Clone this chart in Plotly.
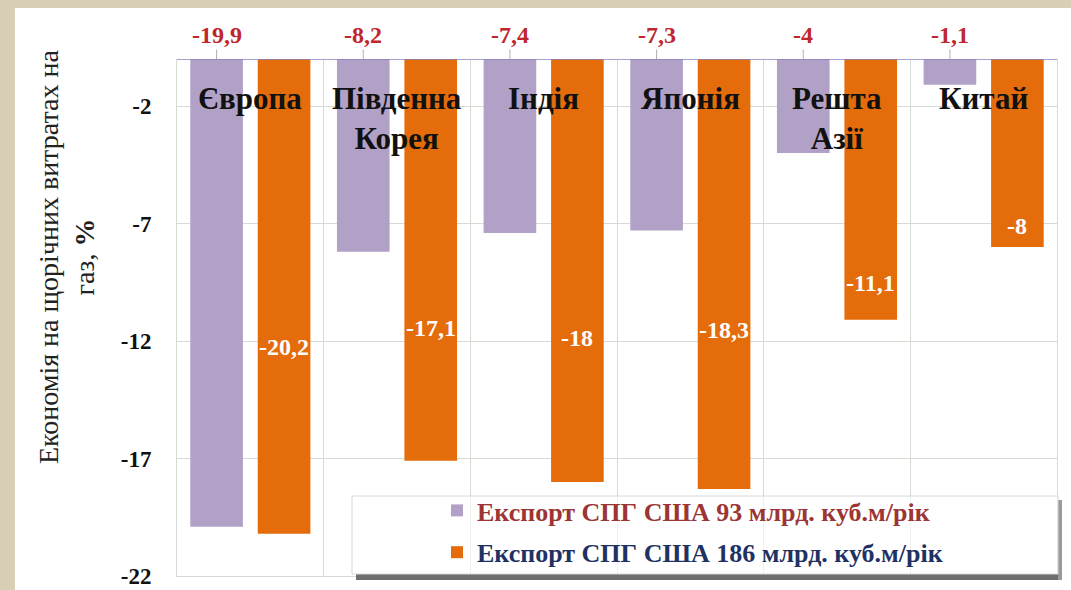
import plotly.graph_objects as go

categories = ["Європа", "Південна<br>Корея", "Індія", "Японія", "Решта<br>Азії", "Китай"]
series_93 = [-19.9, -8.2, -7.4, -7.3, -4.0, -1.1]
series_186 = [-20.2, -17.1, -18.0, -18.3, -11.1, -8.0]
labels_93 = ["-19,9", "-8,2", "-7,4", "-7,3", "-4", "-1,1"]
labels_186 = ["-20,2", "-17,1", "-18", "-18,3", "-11,1", "-8"]
# vertical placement of the in-bar labels (as in the original slide)
label_pos_186 = [-12.27, -11.46, -11.89, -11.55, -9.55, -7.09]
y_ticks = [-2, -7, -12, -17, -22]
name_93 = "Експорт СПГ США 93 млрд. куб.м/рік"
name_186 = "Експорт СПГ США 186 млрд. куб.м/рік"
y_title = "Економія на щорічних витратах на<br>газ, <b>%</b>"

PURPLE = "#b2a1c7"
ORANGE = "#e46c0a"
RED = "#c0272d"
LEG_RED = "#9c3534"
LEG_BLUE = "#1f3263"
GRID = "#d6dcd4"
SERIF = "Liberation Serif"
BEIGE = "#d9cfb6"

W, H = 1071, 590
ML, MR, MT, MB = 177, 14, 59, 14
PW, PH = W - ML - MR, H - MT - MB
BARGAP, GROUPGAP = 0.08, 0.22

def px_x(p):
    return (p - ML) / PW

def px_y(p):
    return (H - MB - p) / PH

ids = list(range(len(categories)))

fig = go.Figure()
fig.add_trace(go.Bar(x=ids, y=series_93, name=f"<b><span style='color:{LEG_RED}'>{name_93}</span></b>",
                     marker=dict(color=PURPLE, line=dict(width=0)), legendgroup="a"))
fig.add_trace(go.Bar(x=ids, y=series_186, name=f"<b><span style='color:{LEG_BLUE}'>{name_186}</span></b>",
                     marker=dict(color=ORANGE, line=dict(width=0)), legendgroup="b"))

slot = (1 - BARGAP) / 2
annotations = []
for i, (lab, v) in enumerate(zip(labels_93, series_93)):
    annotations.append(dict(x=i - slot / 2, y=0, xref="x", yref="y", text=f"<b>{lab}</b>",
                            showarrow=True, arrowhead=0, arrowwidth=1, arrowcolor="#b0b0b0",
                            ax=0, ay=-24, standoff=0,
                            font=dict(family=SERIF, size=24, color=RED)))
for i, (lab, pos) in enumerate(zip(labels_186, label_pos_186)):
    annotations.append(dict(x=i + slot / 2, y=pos, xref="x", yref="y", text=f"<b>{lab}</b>",
                            showarrow=False, font=dict(family=SERIF, size=24, color="white")))
for i, c in enumerate(categories):
    annotations.append(dict(x=i, y=1, xref="x", yref="paper", yanchor="top", yshift=-20,
                            text=f"<b>{c}</b>", showarrow=False, align="center",
                            font=dict(family=SERIF, size=31, color="#111111")))
annotations.append(dict(x=px_x(66), y=px_y(257), xref="paper", yref="paper", text=y_title,
                        xanchor="center", yanchor="middle",
                        textangle=-90, showarrow=False, align="center",
                        font=dict(family=SERIF, size=28, color="#222222")))

shapes = [
    # beige slide border (left and top strips)
    dict(type="rect", xref="paper", yref="paper", x0=px_x(-5), x1=px_x(15), y0=px_y(H + 5), y1=px_y(-5),
         fillcolor=BEIGE, line=dict(width=0), layer="below"),
    dict(type="rect", xref="paper", yref="paper", x0=px_x(-5), x1=px_x(W + 5), y0=px_y(8), y1=px_y(-5),
         fillcolor=BEIGE, line=dict(width=0), layer="below"),
    # top axis line at 0
    dict(type="line", xref="paper", yref="y", x0=0, x1=1, y0=0, y1=0,
         line=dict(color="#8a80c0", width=1.5), layer="above"),
    # legend box shadow (bottom and right strips)
    dict(type="rect", xref="paper", yref="paper", x0=px_x(356), x1=px_x(1062), y0=px_y(580), y1=px_y(574),
         fillcolor="#6e6e6e", line=dict(width=0), layer="above"),
    dict(type="rect", xref="paper", yref="paper", x0=px_x(1058), x1=px_x(1062), y0=px_y(580), y1=px_y(500),
         fillcolor="#9a9a9a", line=dict(width=0), layer="above"),
    # legend box
    dict(type="rect", xref="paper", yref="paper", x0=px_x(352), x1=px_x(1058), y0=px_y(574), y1=px_y(496),
         fillcolor="rgba(255,255,255,0.6)", line=dict(color="#d8d8d8", width=1), layer="above"),
]

fig.update_layout(
    width=W, height=H,
    margin=dict(l=ML, r=MR, t=MT, b=MB, autoexpand=False),
    paper_bgcolor="white",
    plot_bgcolor="white",
    barmode="group", bargap=BARGAP, bargroupgap=GROUPGAP,
    showlegend=True,
    legend=dict(x=px_x(437), y=px_y(487), xanchor="left", yanchor="top",
                bgcolor="rgba(0,0,0,0)", borderwidth=0, itemwidth=30,
                traceorder="grouped", tracegroupgap=5,
                font=dict(family=SERIF, size=26)),
    annotations=annotations,
    shapes=shapes,
    font=dict(family=SERIF),
)
fig.update_xaxes(type="linear", range=[-0.5, len(categories) - 0.5], tickvals=[i - 0.5 for i in range(len(categories) + 1)],
                 showticklabels=False, ticks="", showgrid=True, gridcolor=GRID, gridwidth=1,
                 zeroline=False, showline=True, linecolor=GRID, linewidth=1)
fig.update_yaxes(range=[-22, 0], tickvals=y_ticks, ticktext=[f"<b>{t}</b>" for t in y_ticks],
                 tickfont=dict(family=SERIF, size=23, color="#111111"),
                 showgrid=True, gridcolor=GRID, gridwidth=1, zeroline=False,
                 showline=True, linecolor=GRID, linewidth=1, mirror=True,
                 ticks="", ticklabelstandoff=20)

fig.write_html("out.html", config={"displayModeBar": False},
               post_script="document.body.style.margin='0';document.body.style.overflow='hidden';")
